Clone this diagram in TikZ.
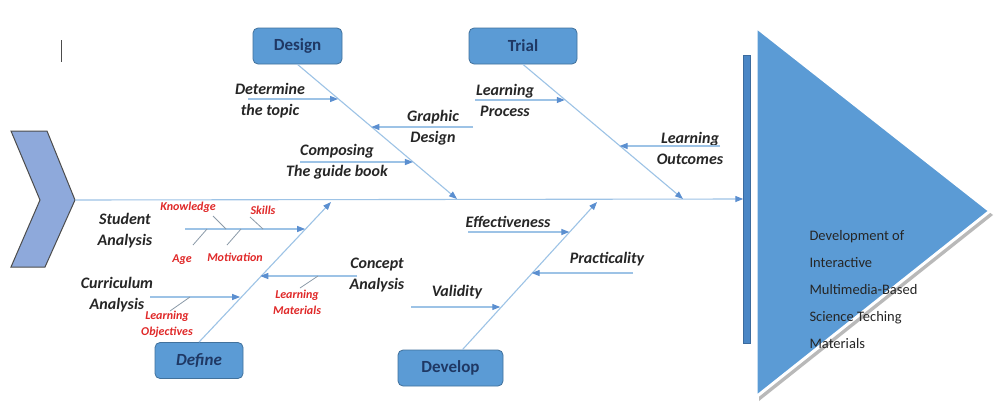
\documentclass[tikz,border=0pt]{standalone}
\usepackage{fontspec}
\setmainfont{Carlito}
\usetikzlibrary{arrows.meta,calc,positioning}
\definecolor{boxfill}{HTML}{5B9BD5}
\definecolor{boxline}{HTML}{41719C}
\definecolor{boxtext}{HTML}{1F3864}
\definecolor{bone}{HTML}{9DC3E6}
\definecolor{tipc}{HTML}{5B8FD0}
\definecolor{causec}{HTML}{262626}
\definecolor{detailc}{HTML}{E02828}
\definecolor{headc}{HTML}{8EA9DB}
\definecolor{goalc}{HTML}{5B9BD5}
\definecolor{barc}{HTML}{4A86C5}
\tikzset{
  phase/.style={draw=boxline, fill=boxfill, rounded corners=5pt, line width=0.8pt,
    minimum height=36pt, text=boxtext, font=\fontsize{17}{20}\selectfont\bfseries},
  cause/.style={align=center, text=causec, inner sep=0pt,
    font=\fontsize{16}{21}\selectfont\bfseries\itshape},
  detail/.style={align=center, text=detailc, inner sep=0pt,
    font=\fontsize{12}{16}\selectfont\bfseries\itshape},
  bonearr/.style={draw=bone, line width=1.1pt, -{Triangle[length=8pt,width=6pt,color=tipc]}},
  twig/.style={draw=gray!60!bone, line width=0.8pt},
}

\begin{document}
\begin{tikzpicture}[x=1pt, y=-1pt]
  \useasboundingbox[fill=white] (0,0) rectangle (996,410);
  % head of the fish and the effect triangle
  \draw[line width=1pt, fill=headc, draw=black!70] (11,131) -- (47,131) -- (75,200) -- (45,267) -- (11,267) -- (40,200) -- cycle;
  \coordinate (tail) at (75,200);
  \node[draw=barc!80!black, fill=barc, minimum width=7pt, minimum height=288pt, inner sep=0pt] (bar) at (747,199) {};
  \fill[gray!55] (759,31) -- (993,215) -- (759,401) -- cycle;
  \draw[white, line width=3pt, fill=goalc] (756,27) -- (990,211) -- (756,397) -- cycle;
  \node[anchor=west, align=left, text=black!85, font=\fontsize{14.5}{27}\selectfont] (goal) at (806,290)
    {Development of\\Interactive\\Multimedia-Based\\Science Teching\\Materials};
  \draw[black!70, line width=1pt] (61,40) -- (61,62);

  % phases
  \node[phase, minimum width=89pt] (design) at (297.5,46) {Design};
  \node[phase, minimum width=108pt] (trial) at (523,46) {Trial};
  \node[phase, minimum width=88pt, font=\fontsize{17}{20}\selectfont\bfseries\itshape] (define) at (199,360.5) {Define};
  \node[phase, minimum width=105pt] (develop) at (450.5,368) {Develop};

  % spine and bones
  \draw[bonearr] (tail) -- (bar.west);
  \coordinate (de) at (457,199);
  \coordinate (te) at (683,199);
  \coordinate (fs) at (define.north);
  \coordinate (fe) at (331,202);
  \coordinate (vs) at ([xshift=12]develop.north);
  \coordinate (ve) at (597,202);
  \draw[bonearr] (design.south) -- (de);
  \draw[bonearr] (trial.south) -- (te);
  \draw[bonearr] (fs) -- (fe);
  \draw[bonearr] (vs) -- (ve);

  % points where the causes meet the bones
  \coordinate (b1) at ($(design.south)!0.254!(de)$);
  \coordinate (b2) at ($(design.south)!0.463!(de)$);
  \coordinate (b3) at ($(design.south)!0.724!(de)$);
  \coordinate (b4) at ($(trial.south)!0.261!(te)$);
  \coordinate (b5) at ($(trial.south)!0.604!(te)$);
  \coordinate (b6) at ($(fs)!0.804!(fe)$);
  \coordinate (b7) at ($(fs)!0.464!(fe)$);
  \coordinate (b8) at ($(fs)!0.312!(fe)$);
  \coordinate (b9) at ($(vs)!0.795!(ve)$);
  \coordinate (b10) at ($(vs)!0.514!(ve)$);
  \coordinate (b11) at ($(vs)!0.281!(ve)$);

  % causes
  \node[cause] (topic) at (270,101) {Determine\\the topic};
  \node[cause] (graphic) at (433,128) {Graphic\\Design};
  \node[cause] (guide) at (337,161.5) {Composing\\The guide book};
  \node[cause] (process) at (505,100) {Learning\\Process};
  \node[cause] (outcome) at (690,148) {Learning\\Outcomes};
  \node[cause] (student) at (125,231) {Student\\Analysis};
  \node[cause] (concept) at (377,275) {Concept\\Analysis};
  \node[cause] (curric) at (117,295) {Curriculum\\Analysis};
  \node[cause] (effect) at (508,222) {Effectiveness};
  \node[cause] (pract) at (607,259) {Practicality};
  \node[cause] (valid) at (457,292) {Validity};

  \coordinate (a1) at (248,99);
  \coordinate (a2) at (473,127);
  \coordinate (a3) at (300,162);
  \coordinate (a4) at (475,100);
  \coordinate (a5) at (720,146);
  \coordinate (a6) at (185,229);
  \coordinate (a7) at (357,276);
  \coordinate (a8) at (150,297);
  \coordinate (a9) at (468,232);
  \coordinate (a10) at (633,273);
  \coordinate (a11) at (411,307);
  \foreach \i in {1,...,11}
    \draw[bonearr] (a\i) -- (a\i -| b\i);

  % details of the analyses
  \node[detail] (know) at (188,207) {Knowledge};
  \node[detail] (skill) at (263,210) {Skills};
  \node[detail] (age) at (182,260) {Age};
  \node[detail] (motiv) at (235,257) {Motivation};
  \node[detail] (object) at (167,324) {Learning\\Objectives};
  \node[detail] (mater) at (297,302) {Learning\\Materials};
  \draw[twig] (213,216) -- (226,229);
  \draw[twig] (250,217) -- (263,229);
  \draw[twig] (193,245) -- (207,229);
  \draw[twig] (227,245) -- (241,229);
  \draw[twig] (170,311) -- (190,297);
  \draw[twig] (300,288) -- (318,276);
\end{tikzpicture}
\end{document}
